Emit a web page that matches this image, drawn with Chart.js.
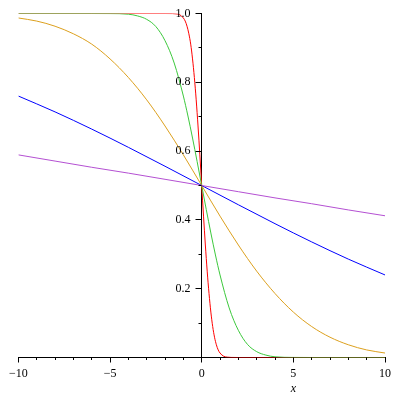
<!DOCTYPE html>
<html>
<head>
<meta charset="utf-8">
<script src="https://cdn.jsdelivr.net/npm/chart.js@4"></script>
<style>
html,body{margin:0;padding:0;background:#fff}
#wrap{width:400px;height:400px}
</style>
</head>
<body>
<div id="wrap"><canvas id="c" width="400" height="400"></canvas></div>
<script>
// values
const purpleX = [-10,-8,-6,-4,-2,0,2,4,6,8,10];
const purpleY = [0.589,0.571,0.553,0.536,0.518,0.5,0.482,0.464,0.447,0.429,0.412];
const blueX = [-10,-8,-6,-4,-2,0,2,4,6,8,10];
const blueY = [0.760,0.714,0.664,0.611,0.556,0.5,0.444,0.389,0.336,0.286,0.240];
const orangeX = [-10,-9,-8,-7,-6,-5,-4,-3,-2,-1,0,1,2,3,4,5,6,7,8,9,10];
const orangeY = [0.987,0.978,0.963,0.941,0.911,0.868,0.814,0.749,0.673,0.589,0.5,0.411,0.327,0.251,0.186,0.132,0.090,0.059,0.037,0.022,0.013];
const greenX = [-10,-6,-5,-4,-3.5,-3,-2.5,-2,-1.5,-1,-0.75,-0.5,-0.25,0,0.25,0.5,0.75,1,1.5,2,2.5,3,3.5,4,5,6,10];
const greenY = [1,1,0.9998,0.998,0.993,0.983,0.962,0.921,0.856,0.760,0.702,0.638,0.570,0.5,0.430,0.362,0.298,0.240,0.144,0.079,0.038,0.017,0.007,0.002,0.0002,0,0];
const redX = [-10,-2,-1.6,-1.4,-1.2,-1,-0.9,-0.8,-0.7,-0.6,-0.5,-0.4,-0.3,-0.2,-0.1,0,0.1,0.2,0.3,0.4,0.5,0.6,0.7,0.8,0.9,1,1.2,1.4,1.6,2,10];
const redY = [1,1,0.9998,0.999,0.9964,0.987,0.978,0.963,0.941,0.911,0.868,0.814,0.749,0.673,0.589,0.5,0.411,0.327,0.251,0.186,0.132,0.090,0.059,0.037,0.022,0.013,0.0036,0.001,0.0002,0,0];

const xLabeled = [-10,-5,0,5,10];
const yLabeled = [0.2,0.4,0.6,0.8,1.0];
const xTitle = 'x';

function pts(xs,ys){ return xs.map((x,i)=>({x, y:ys[i]})) }
function minus(v){ return String(v).replace('-','\u2212') }
const round1 = v => Math.round(v*10)/10;

// minor/major tick marks, y labels left of the centre axis, axis label
const tickMarks = {
  id:'tickMarks',
  afterDraw(chart){
    const ctx=chart.ctx, xs=chart.scales.x, ys=chart.scales.y;
    const x0 = Math.round(xs.getPixelForValue(0)-0.5)+0.5, y0 = Math.round(ys.getPixelForValue(0)-0.5)+0.5;
    ctx.save(); ctx.strokeStyle='#000'; ctx.lineWidth=1; ctx.beginPath();
    xs.ticks.forEach(t=>{
      const px = Math.round(xs.getPixelForValue(t.value)-0.5)+0.5;
      const len = xLabeled.includes(Math.round(t.value)) ? 5 : 2.5;
      ctx.moveTo(px,y0); ctx.lineTo(px,y0+len);
    });
    ys.ticks.forEach(t=>{
      const v = round1(t.value); if(v===0) return;
      const py = Math.round(ys.getPixelForValue(t.value)-0.5)+0.5;
      const len = yLabeled.includes(v) ? 6 : 3;
      ctx.moveTo(x0,py); ctx.lineTo(x0-len,py);
    });
    ctx.stroke();
    ctx.fillStyle='#000'; ctx.font='12px "Liberation Serif"'; ctx.textAlign='right'; ctx.textBaseline='middle';
    yLabeled.forEach(v=>ctx.fillText(v.toFixed(1), x0-11, ys.getPixelForValue(v)));
    ctx.font='italic 12px "Liberation Serif"'; ctx.textAlign='center';
    ctx.fillText(xTitle, xs.getPixelForValue(5), y0+31);
    ctx.restore();
  }
};

const line = (label,color,xs,ys,order)=>({label, data:pts(xs,ys), borderColor:color, borderWidth:1, pointRadius:0, fill:false, cubicInterpolationMode:'monotone', order});

new Chart(document.getElementById('c'), {
  type:'line',
  data:{ datasets:[
    line('t=1000','#b450d2',purpleX,purpleY,1),
    line('t=100','#0000ff',blueX,blueY,2),
    line('t=10','#dca01e',orangeX,orangeY,3),
    line('t=1','#3cc83c',greenX,greenY,4),
    line('t=0.1','#ff0000',redX,redY,5)
  ]},
  options:{
    responsive:false, animation:false, devicePixelRatio:1,
    layout:{ padding:{left:16, right:11, top:13.5, bottom:42.5} },
    plugins:{ legend:{display:false}, tooltip:{enabled:false} },
    scales:{
      x:{ type:'linear', min:-10, max:10, position:{y:0}, z:1,
        grid:{display:false, drawTicks:false}, border:{display:true, color:'#000', width:1},
        ticks:{ stepSize:1, autoSkip:false, maxRotation:0, padding:9, color:'#000',
          font:{family:'"Liberation Serif"', size:12},
          callback:v=> xLabeled.includes(v) ? minus(v) : '' } },
      y:{ type:'linear', min:0, max:1, position:{x:0}, z:1,
        grid:{display:false, drawTicks:false}, border:{display:true, color:'#000', width:1},
        ticks:{ stepSize:0.1, autoSkip:false, display:false } }
    }
  },
  plugins:[tickMarks]
});
</script>
</body>
</html>
